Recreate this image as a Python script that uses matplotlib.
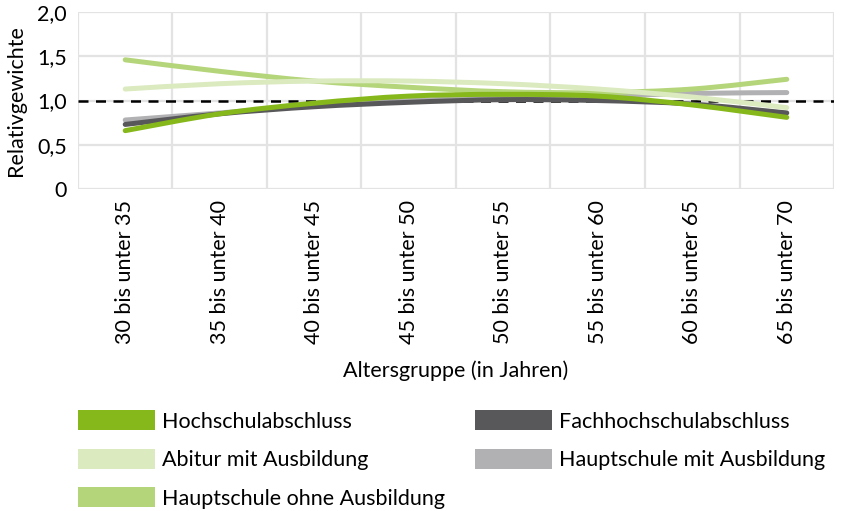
import matplotlib.pyplot as plt
import numpy as np
from matplotlib.path import Path
from matplotlib.patches import PathPatch, Patch

plt.rcParams['font.family'] = ['Lato', 'DejaVu Sans']

# age groups on x axis
age_groups = ['30 bis unter 35', '35 bis unter 40', '40 bis unter 45', '45 bis unter 50',
              '50 bis unter 55', '55 bis unter 60', '60 bis unter 65', '65 bis unter 70']

# relative weights per education level
hochschule = [0.66, 0.85, 0.97, 1.05, 1.07, 1.05, 0.95, 0.81]
fachhochschule = [0.73, 0.85, 0.93, 0.98, 1.01, 1.00, 0.96, 0.86]
abitur_ausb = [1.13, 1.19, 1.22, 1.22, 1.19, 1.13, 1.04, 0.92]
haupt_ohne = [1.46, 1.33, 1.22, 1.15, 1.10, 1.09, 1.13, 1.24]
haupt_mit = [0.78, 0.86, 0.94, 1.00, 1.03, 1.05, 1.08, 1.09]

y_ticks = [0, 0.5, 1.0, 1.5, 2.0]
y_ticklabels = ['0', '0,5', '1,0', '1,5', '2,0']


def smooth_path(x, y):
    # excel-like smoothed line as cubic bezier segments
    pts = np.column_stack([x, y]).astype(float)
    n = len(pts)
    verts = [pts[0]]
    codes = [Path.MOVETO]
    for i in range(n - 1):
        p0 = pts[i - 1] if i > 0 else pts[i]
        p1 = pts[i]
        p2 = pts[i + 1]
        p3 = pts[i + 2] if i + 2 < n else pts[i + 1]
        c1 = p1 + (p2 - p0) / 6
        c2 = p2 - (p3 - p1) / 6
        verts += [c1, c2, p2]
        codes += [Path.CURVE4] * 3
    return Path(verts, codes)


fs = 15.5
fig = plt.figure(figsize=(8.41, 5.11), dpi=100)
ax = fig.add_axes([0.0927, 0.630, 0.8990, 0.3465])

x = np.arange(len(age_groups))
ax.set_xlim(-0.5, len(age_groups) - 0.5)
ax.set_ylim(0, 2.0)

grid_col = '#e3e3e3'
for xv in np.arange(-0.5, len(age_groups), 1.0):
    ax.axvline(xv, color=grid_col, lw=1.6, zorder=0)
for yv in y_ticks:
    ax.axhline(yv, color=grid_col, lw=1.6, zorder=0)
for s in ax.spines.values():
    s.set_visible(False)

ax.axhline(1.0, color='black', lw=1.8, ls=(0, (4, 3)), zorder=1)

series = [
    (haupt_mit, '#b1b1b3', 'Hauptschule mit Ausbildung'),
    (fachhochschule, '#58585a', 'Fachhochschulabschluss'),
    (haupt_ohne, '#b5d57a', 'Hauptschule ohne Ausbildung'),
    (hochschule, '#86b81b', 'Hochschulabschluss'),
    (abitur_ausb, '#dbeabf', 'Abitur mit Ausbildung'),
]
for vals, col, name in series:
    p = PathPatch(smooth_path(x, vals), fill=False, edgecolor=col, lw=3.6,
                  capstyle='round', joinstyle='round', zorder=3)
    ax.add_patch(p)

ax.set_xticks(x)
ax.set_xticklabels(age_groups, rotation=90, fontsize=fs)
ax.set_yticks(y_ticks)
ax.set_yticklabels(y_ticklabels, fontsize=fs)
ax.tick_params(length=0, pad=8)
ax.set_xlabel('Altersgruppe (in Jahren)', fontsize=fs, labelpad=12)
ax.set_ylabel('Relativgewichte', fontsize=fs, labelpad=8)

legend_order = ['Hochschulabschluss', 'Abitur mit Ausbildung', 'Hauptschule ohne Ausbildung',
                'Fachhochschulabschluss', 'Hauptschule mit Ausbildung']
colors = {name: col for _, col, name in series}
handles = [Patch(facecolor=colors[n], edgecolor='none', label=n) for n in legend_order]
fig.legend(handles=handles, ncol=2, loc='upper left', bbox_to_anchor=(0.082, 0.214),
           frameon=False, fontsize=fs, handlelength=3.6, handleheight=1.05,
           handletextpad=0.3, labelspacing=0.8, columnspacing=1.4, borderaxespad=0)

fig.savefig('out.png', dpi=100)
